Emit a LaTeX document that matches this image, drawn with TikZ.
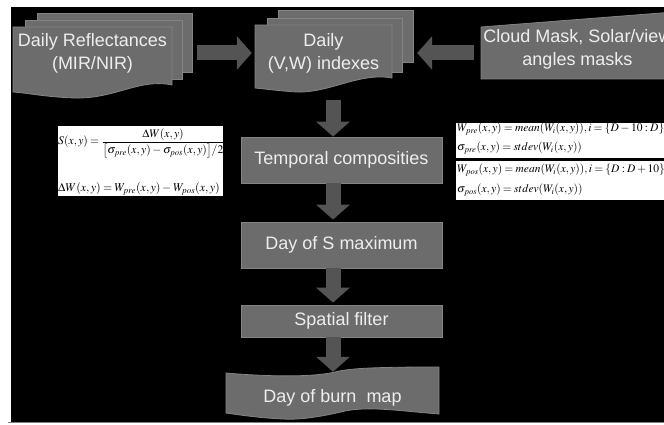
\documentclass[tikz,border=0pt]{standalone}
\usepackage{amsmath}
\usepackage{mathptmx}
\usepackage[no-math]{fontspec}
\setsansfont{Liberation Sans}
\usetikzlibrary{arrows.meta}

\definecolor{boxgray}{RGB}{108,108,108}
\definecolor{edgegray}{RGB}{132,132,132}
\definecolor{arrowgray}{RGB}{84,84,84}
\definecolor{labelwhite}{RGB}{238,238,238}

\begin{document}
\medmuskip=2.5mu\relax
\thickmuskip=3.5mu\relax
\begin{tikzpicture}[x=1pt, y=-1pt,
    blocktext/.style={text=labelwhite, font=\sffamily\fontsize{18}{23}\selectfont, align=center, inner sep=0pt},
    stepbox/.style={blocktext, fill=boxgray, draw=edgegray, line width=0.8pt, minimum width=201pt},
    sheet/.style={fill=boxgray, draw=edgegray, line width=0.8pt},
    flowarrow/.style={arrowgray, line width=15pt, -{Triangle[width=33pt,length=15pt]}},
    formbox/.style={fill=white, draw=black, line width=0.6pt},
    mathtext/.style={inner sep=0pt, anchor=west, font=\fontsize{11.5}{13}\selectfont}]
  \useasboundingbox (0,0) rectangle (664,425);
  \fill[black] (11,7) rectangle (664,421.5);
  \draw[gray, line width=1.5pt] (8,422.7) -- (664,422.7);

  % inputs
  \draw[sheet] (37,13) rectangle (192,72);
  \draw[sheet] (25,20) rectangle (182,79);
  \draw[sheet] (13,27) -- (172,27) -- (172,85) .. controls (140,78) and (115,99) .. (75,98)
    .. controls (45,97) and (28,93) .. (13,92) -- cycle;
  \node[blocktext, minimum width=159pt] (refl) at (92.5,53) {Daily Reflectances\\(MIR/NIR)};

  \draw[sheet] (278,10) rectangle (413,62);
  \draw[sheet] (267,18) rectangle (402,72);
  \draw[sheet] (255,25) -- (392,25) -- (392,78) .. controls (360,72) and (330,93) .. (297,92)
    .. controls (280,91) and (265,89) .. (255,88) -- cycle;
  \node[blocktext, minimum width=137pt, minimum height=53pt] (idx) at (323.5,53) {Daily\\(V,W) indexes};

  \draw[sheet] (481,27) -- (674,12) -- (674,79) -- (481,79) -- cycle;
  \node[blocktext, minimum width=193pt] (mask) at (577.5,49) {Cloud Mask, Solar/view\\angles masks};

  % chain
  \node[stepbox, minimum height=46pt] (temp) at (341.5,160) {Temporal composities};
  \node[stepbox, minimum height=46pt] (smax) at (341.5,245) {Day of S maximum};
  \node[stepbox, minimum height=32pt] (filt) at (341.5,321) {Spatial filter};

  \draw[sheet] (226,373) .. controls (260,376) and (310,378) .. (335,372)
    .. controls (350,368) and (380,367) .. (439,367) -- (439,414)
    .. controls (400,411) and (370,406) .. (345,411)
    .. controls (320,417) and (300,420) .. (283,419)
    .. controls (260,418) and (240,415) .. (226,413) -- cycle;
  \node[blocktext, minimum width=213pt, minimum height=52pt] (burn) at (332.5,398) {Day of burn~~map};

  \coordinate (spine) at (333,0);
  \draw[flowarrow, shorten <=25pt, shorten >=3pt] (refl.east) -- (idx.west);
  \draw[flowarrow, shorten <=7pt, shorten >=25pt] (mask.west |- idx.east) -- (idx.east);
  \draw[flowarrow, shorten <=20pt] (idx.south -| spine) -- (temp.north -| spine);
  \draw[flowarrow, shorten >=2pt] (temp.south -| spine) -- (smax.north -| spine);
  \draw[flowarrow, shorten >=2pt] (smax.south -| spine) -- (filt.north -| spine);
  \draw[flowarrow] (filt.south -| spine) -- (burn.north -| spine);

  % formulas
  \draw[formbox] (57,125) rectangle (223,196);
  \node[mathtext, font=\fontsize{11.6}{14}\selectfont] (sratio) at (58,143)
    {$S(x, y)=\dfrac{\Delta W(x, y)}{\bigl[\sigma_{pre}(x, y)-\sigma_{pos}(x, y)\bigr]/2}$};
  \node[mathtext, font=\fontsize{11.9}{14}\selectfont] (dw) at (58,189)
    {$\Delta W(x, y)=W_{pre}(x, y)-W_{pos}(x, y)$};

  \draw[formbox] (455,122) rectangle (670,158);
  \draw[formbox] (455,160) rectangle (670,200);
  \node[mathtext] (wpre) at (457,129) {$W_{pre}(x, y)= mean(W_i(x, y)), i=\{D-10:D\}$};
  \node[mathtext] (spre) at (457,148) {$\sigma_{pre}(x, y)= stdev(W_i(x, y))$};
  \node[mathtext] (wpos) at (457,170) {$W_{pos}(x, y)= mean(W_i(x, y)), i=\{D:D+10\}$};
  \node[mathtext] (spos) at (457,190) {$\sigma_{pos}(x, y)= stdev(W_i(x, y))$};
\end{tikzpicture}
\end{document}
